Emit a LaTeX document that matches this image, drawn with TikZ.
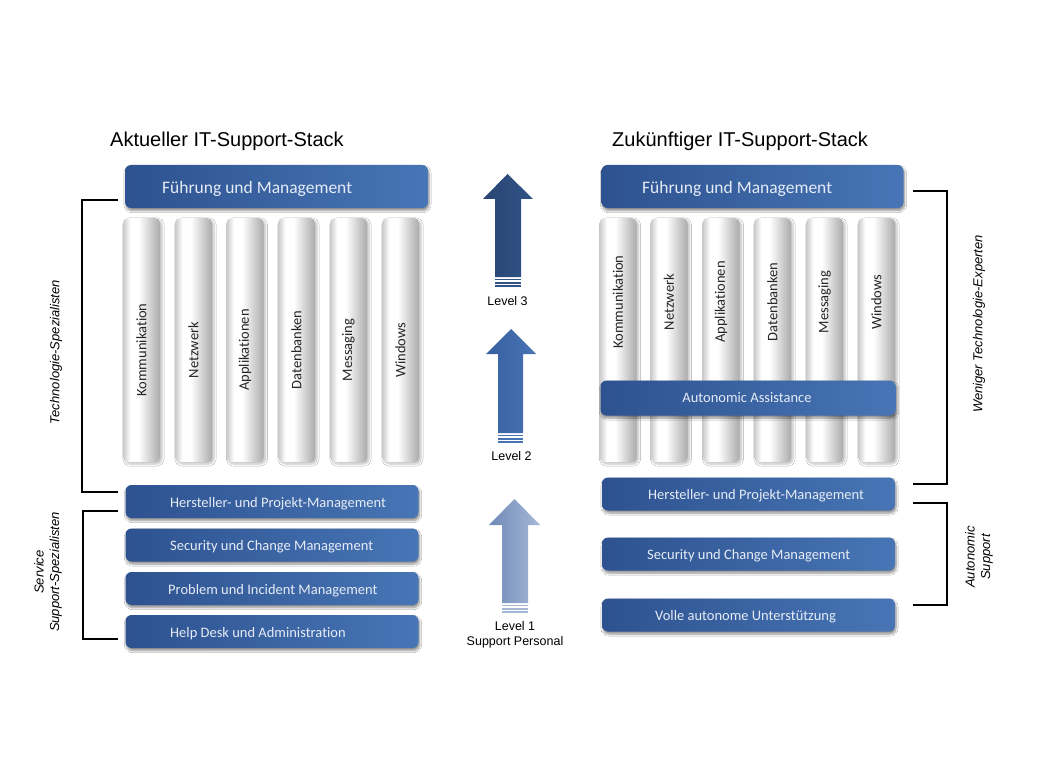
\documentclass[tikz,border=0pt]{standalone}
\usepackage{fontspec}
\setmainfont{Liberation Sans}
\newfontfamily\boxfont[Ligatures=CommonOff]{Carlito}
\usetikzlibrary{shadows.blur}
\definecolor{bA}{HTML}{2E5290}
\definecolor{bB}{HTML}{4775B5}
\definecolor{cL}{HTML}{CACACA}
\definecolor{cR}{HTML}{ABABAB}
\definecolor{btxt}{HTML}{E6ECF6}
\definecolor{aThreeL}{HTML}{284574}
\definecolor{aThreeR}{HTML}{315386}
\definecolor{aTwoL}{HTML}{3760A0}
\definecolor{aTwoR}{HTML}{4874B5}
\definecolor{aOneL}{HTML}{6F8AB7}
\definecolor{aOneR}{HTML}{A6B8D7}
\pgfdeclarehorizontalshading{colshade}{100bp}{color(0bp)=(cL); color(25bp)=(cL); color(35bp)=(white); color(46bp)=(white); color(75bp)=(cR); color(100bp)=(cR)}
\begin{document}
\begin{tikzpicture}[x=1pt,y=-1pt,
  bluebox/.style={rectangle, rounded corners=6pt, left color=bA, right color=bB, draw=none, inner sep=0pt,
    blur shadow={shadow xshift=1pt, shadow yshift=-2.5pt, shadow opacity=45, shadow blur steps=8}},
  colbox/.style={rectangle, rounded corners=5pt, shade, shading=colshade, minimum width=37pt, minimum height=244pt, inner sep=0pt,
    blur shadow={shadow xshift=2pt, shadow yshift=-2pt, shadow opacity=25, shadow blur steps=6}},
  bigtxt/.style={font=\boxfont\fontsize{17.5}{20}\selectfont, text=btxt, anchor=west, inner sep=0pt},
  boxtxt/.style={font=\boxfont\fontsize{14.5}{17}\selectfont, text=btxt, anchor=west, inner sep=0pt},
  coltxt/.style={font=\boxfont\fontsize{14.5}{17}\selectfont, text=black!85, rotate=90, inner sep=0pt},
  title/.style={font=\fontsize{20}{24}\selectfont, anchor=base west, inner sep=0pt},
  sidetxt/.style={font=\itshape\fontsize{13}{15.5}\selectfont, rotate=90, align=center, inner sep=0pt},
  lvltxt/.style={font=\fontsize{12.5}{15}\selectfont, inner sep=0pt, align=center},
  brk/.style={line width=2.5pt, black},
]
\useasboundingbox[fill=white] (0,0) rectangle (1038,778);

% ---------- titles
\node[title] (tl) at (110,147) {Aktueller IT-Support-Stack};
\node[title] (tr) at (612,147) {Zukünftiger IT-Support-Stack};

% ---------- left stack
\node[bluebox, minimum width=303pt, minimum height=43pt] (lf) at (276.5,186.5) {};
\node[bigtxt] (lft) at (162,188.5) {Führung und Management};

\foreach \n/\x/\t in {1/141.5/Kommunikation, 2/193.5/Netzwerk, 3/245/Applikationen, 4/296.5/Datenbanken, 5/348.5/Messaging, 6/400.5/Windows}{
  \node[colbox] (lc\n) at (\x,340) {};
  \node[coltxt] (lct\n) at (\x,350) {\t};
}

\node[bluebox, minimum width=293pt, minimum height=33pt] (lb1) at (272,501.5) {};
\node[bluebox, minimum width=293pt, minimum height=33pt] (lb2) at (272,545) {};
\node[bluebox, minimum width=293pt, minimum height=33pt] (lb3) at (272,588.5) {};
\node[bluebox, minimum width=293pt, minimum height=33pt] (lb4) at (272,631.5) {};
\node[boxtxt] (lbt1) at (170,503.5) {Hersteller- und Projekt-Management};
\node[boxtxt] (lbt2) at (170,547) {Security und Change Management};
\node[boxtxt] (lbt3) at (168,590.5) {Problem und Incident Management};
\node[boxtxt] (lbt4) at (170,633.5) {Help Desk und Administration};

% brackets left
\draw[brk] (118,200) -- (82,200) -- (82,492) -- (118,492);
\draw[brk] (118,511) -- (83,511) -- (83,639) -- (118,639);
\node[sidetxt] (ls1) at (56,352) {Technologie-Spezialisten};
\node[sidetxt] (ls2) at (48,572) {Service\\Support-Spezialisten};

% ---------- right stack
\node[bluebox, minimum width=302pt, minimum height=43pt] (rf) at (752.5,186.5) {};
\node[bigtxt] (rft) at (642,188.5) {Führung und Management};

\foreach \n/\x/\t in {1/618/Kommunikation, 2/669/Netzwerk, 3/721/Applikationen, 4/772.5/Datenbanken, 5/824.5/Messaging, 6/876.5/Windows}{
  \node[colbox] (rc\n) at (\x,340) {};
  \node[coltxt] (rct\n) at (\x,302) {\t};
}
\node[bluebox, minimum width=295pt, minimum height=35pt] (raa) at (748,398) {};
\node[font=\boxfont\fontsize{14.5}{17}\selectfont, text=btxt, inner sep=0pt] (raat) at (747,397.5) {Autonomic Assistance};

\node[bluebox, minimum width=293pt, minimum height=33pt] (rb1) at (748.5,494) {};
\node[bluebox, minimum width=293pt, minimum height=33pt] (rb2) at (748.5,554) {};
\node[bluebox, minimum width=293pt, minimum height=33pt] (rb3) at (748.5,615) {};
\node[boxtxt] (rbt1) at (648,496) {Hersteller- und Projekt-Management};
\node[boxtxt] (rbt2) at (647,556) {Security und Change Management};
\node[boxtxt] (rbt3) at (655,617) {Volle autonome Unterstützung};

% brackets right
\draw[brk] (913,191) -- (947,191) -- (947,484) -- (913,484);
\draw[brk] (913,503) -- (947,503) -- (947,605) -- (913,605);
\node[sidetxt] (rs1) at (979,324) {Weniger Technologie-Experten};
\node[sidetxt] (rs2) at (979,557) {Autonomic\\Support};

% ---------- arrows
\shade[left color=aThreeL, right color=aThreeR] (495,277) -- (495,199) -- (483,199) -- (507.5,174) -- (533,199) -- (521,199) -- (521,277) -- cycle;
\fill[aThreeR] (495,278.6) rectangle (521,280.4);
\fill[aThreeR] (495,281.8) rectangle (521,283.6);
\fill[aThreeR] (495,285) rectangle (521,286.8);
\node[lvltxt] (l3) at (507.5,301) {Level 3};

\shade[left color=aTwoL, right color=aTwoR] (498,433) -- (498,354) -- (486,354) -- (511,329) -- (536,354) -- (523,354) -- (523,433) -- cycle;
\fill[aTwoR] (498,434.6) rectangle (523,436.4);
\fill[aTwoR] (498,437.8) rectangle (523,439.6);
\fill[aTwoR] (498,441) rectangle (523,442.8);
\node[lvltxt] (l2) at (511.5,456) {Level 2};

\shade[left color=aOneL, right color=aOneR] (502,603) -- (502,525) -- (489,525) -- (514.5,499) -- (540,525) -- (528,525) -- (528,603) -- cycle;
\fill[aOneR] (502,604.6) rectangle (528,606.4);
\fill[aOneR] (502,607.8) rectangle (528,609.6);
\fill[aOneR] (502,611) rectangle (528,612.8);
\node[lvltxt] (l1) at (515,635) {Level 1\\Support Personal};
\end{tikzpicture}
\end{document}
